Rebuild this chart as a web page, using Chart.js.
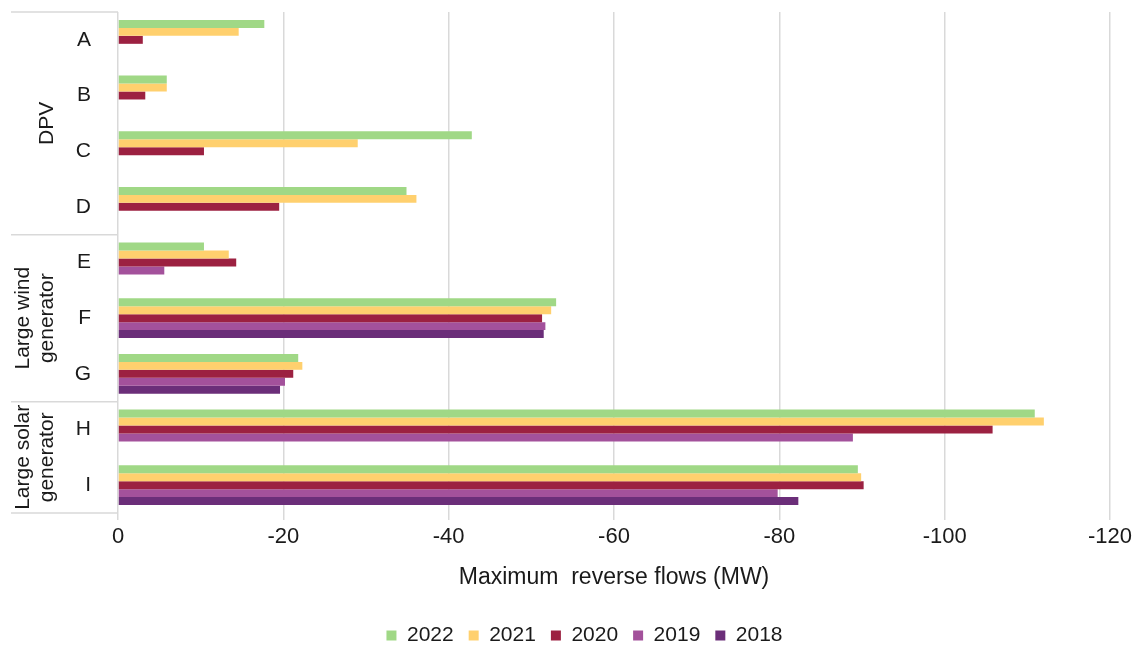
<!DOCTYPE html>
<html>
<head>
<meta charset="utf-8">
<script src="https://cdn.jsdelivr.net/npm/chart.js@4"></script>
<style>
  html, body { margin: 0; padding: 0; background: #fff; overflow: hidden; }
  #wrap { width: 1136px; height: 648px; }
</style>
</head>
<body>
<div id="wrap"><canvas id="grafico"></canvas></div>
<script>
// categories and groups
const categories = ['A', 'B', 'C', 'D', 'E', 'F', 'G', 'H', 'I'];
const groups = [
    { label: ['DPV'], from: 0, to: 3 },
    { label: ['Large wind', 'generator'], from: 4, to: 6 },
    { label: ['Large solar', 'generator'], from: 7, to: 8 }
];
const years = ['2022', '2021', '2020', '2019', '2018'];

// maximum reverse flows (MW)
const flows2022 = [-17.7, -5.9, -42.8, -34.9, -10.4, -53.0, -21.8, -110.9, -89.5];
const flows2021 = [-14.6, -5.9, -29.0, -36.1, -13.4, -52.4, -22.3, -112.0, -89.9];
const flows2020 = [-3.0, -3.3, -10.4, -19.5, -14.3, -51.3, -21.2, -105.8, -90.2];
const flows2019 = [null, null, null, null, -5.6, -51.7, -20.2, -88.9, -79.8];
const flows2018 = [null, null, null, null, null, -51.5, -19.6, null, -82.3];

const xTicks = [0, -20, -40, -60, -80, -100, -120];

const colors = ['#A0D886', '#FFD06E', '#9C2141', '#A3519B', '#6B2E79'];
const series = [flows2022, flows2021, flows2020, flows2019, flows2018];

const textColor = '#1a1a1a';
const lineColor = '#d9d9d9';
const font = 'Liberation Sans, Arial, sans-serif';

// draws the group labels on the left and the lines between them
const groupPlugin = {
    id: 'groupLabels',
    afterDraw(chart) {
        const ctx = chart.ctx;
        const y = chart.scales.y;
        const area = chart.chartArea;
        const half = (y.getPixelForValue(1) - y.getPixelForValue(0)) / 2;
        ctx.save();
        ctx.strokeStyle = lineColor;
        ctx.lineWidth = 1.5;
        const edges = [y.getPixelForValue(0) - half];
        groups.forEach(g => edges.push(y.getPixelForValue(g.to) + half));
        edges.forEach(e => {
            ctx.beginPath();
            ctx.moveTo(11, e);
            ctx.lineTo(area.left, e);
            ctx.stroke();
        });
        ctx.fillStyle = textColor;
        ctx.font = '21px ' + font;
        ctx.textAlign = 'center';
        ctx.textBaseline = 'middle';
        groups.forEach(g => {
            const top = y.getPixelForValue(g.from) - half;
            const bottom = y.getPixelForValue(g.to) + half;
            const mid = (top + bottom) / 2;
            const n = g.label.length;
            g.label.forEach((line, i) => {
                const x = 47 - (n - 1 - i) * 24;
                ctx.save();
                ctx.translate(x, mid);
                ctx.rotate(-Math.PI / 2);
                ctx.fillText(line, 0, 0);
                ctx.restore();
            });
        });
        ctx.restore();
    }
};

const config = {
    type: 'bar',
    data: {
        labels: categories,
        datasets: years.map((yr, i) => ({
            label: yr,
            data: series[i],
            backgroundColor: colors[i],
            borderWidth: 0,
            categoryPercentage: 0.716,
            barPercentage: 1
        }))
    },
    options: {
        indexAxis: 'y',
        responsive: false,
        animation: false,
        layout: { padding: { top: 12, right: 23, bottom: -8, left: 56 } },
        scales: {
            x: {
                min: -120,
                max: 0,
                reverse: true,
                afterBuildTicks(scale) {
                    scale.ticks = xTicks.map(v => ({ value: v }));
                },
                afterFit(scale) { scale.height = 97; },
                grid: { color: lineColor, lineWidth: 1.5, tickLength: 7 },
                border: { display: false },
                ticks: { color: textColor, font: { size: 22, family: font }, padding: 4 },
                title: {
                    display: true,
                    text: 'Maximum  reverse flows (MW)',
                    color: textColor,
                    font: { size: 23, family: font },
                    padding: { top: 10, bottom: 19 }
                }
            },
            y: {
                afterFit(scale) {
                    scale.width = 62;
                    scale.paddingTop = 0;
                    scale.paddingBottom = 0;
                },
                grid: { display: false },
                border: { display: false },
                ticks: { color: textColor, font: { size: 21, family: font }, padding: 19 }
            }
        },
        plugins: {
            legend: {
                position: 'bottom',
                labels: {
                    color: textColor,
                    font: { size: 21, family: font },
                    boxWidth: 10,
                    boxHeight: 10,
                    padding: 15
                }
            },
            tooltip: { enabled: false }
        }
    },
    plugins: [groupPlugin]
};

const canvas = document.getElementById('grafico');
canvas.width = 1136;
canvas.height = 648;
new Chart(canvas, config);
</script>
</body>
</html>
